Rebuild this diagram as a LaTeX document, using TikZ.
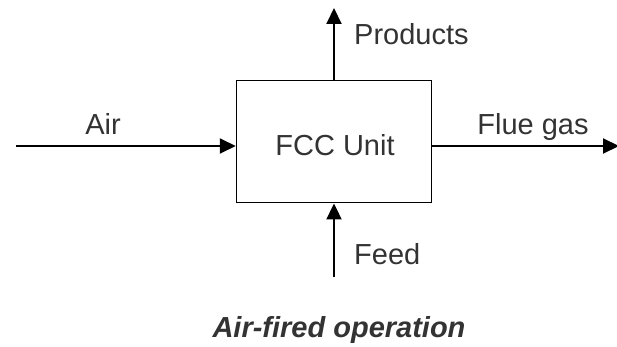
\documentclass[tikz,border=0pt]{standalone}
\usepackage{fontspec}
\setmainfont{Liberation Sans}
\usetikzlibrary{arrows.meta}
\definecolor{txt}{HTML}{333333}
\tikzset{
  x=1pt, y=-1pt,
  flow/.style={line width=2pt, -{Triangle[length=16pt,width=15pt]}},
  unitbox/.style={draw, line width=1.5pt, minimum width=195pt, minimum height=122pt, inner sep=0pt},
  lbl/.style={text=txt, font=\fontsize{29}{34}\selectfont, inner sep=0pt},
}
\begin{document}
\begin{tikzpicture}
  \useasboundingbox (0,0) rectangle (617,347);
  % process block
  \node[unitbox] (unit) at (334,141.7) {};
  \node[lbl, anchor=base] (unitlbl) at (335,156) {FCC Unit};
  % free ends of the streams
  \coordinate (airin) at (16,146);
  \coordinate (flueout) at (619,146);
  \coordinate (prodout) at (334,8);
  \coordinate (feedin) at (334,277);
  % streams
  \draw[flow] (airin) -- (airin -| unit.west);
  \draw[flow] (flueout -| unit.east) -- (flueout);
  \draw[flow] (unit.north) -- (prodout);
  \draw[flow] (feedin) -- (unit.south);
  % stream labels
  \node[lbl, anchor=base] (airlbl) at (103,135) {Air};
  \node[lbl, anchor=base] (fluelbl) at (533,135) {Flue gas};
  \node[lbl, anchor=base west] (prodlbl) at (354,45) {Products};
  \node[lbl, anchor=base west] (feedlbl) at (354,264) {Feed};
  % caption
  \node[lbl, anchor=base, font=\fontsize{29}{34}\selectfont\bfseries\itshape] (caption) at (339,337) {Air-fired operation};
\end{tikzpicture}
\end{document}
